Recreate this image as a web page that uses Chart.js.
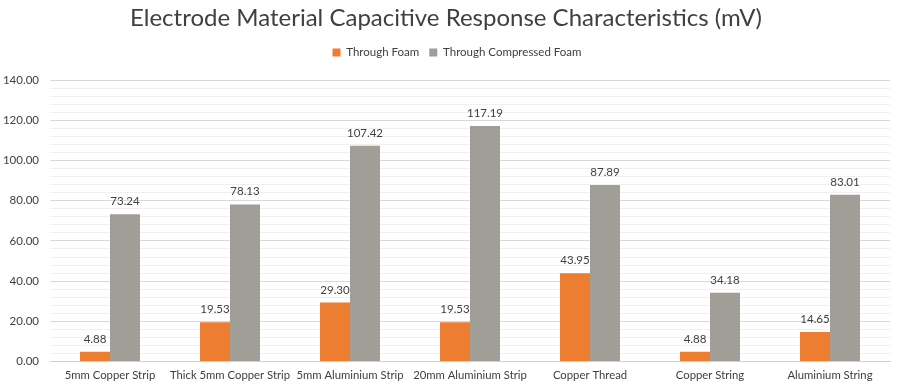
<!DOCTYPE html>
<html>
<head>
<meta charset="utf-8">
<script src="https://cdn.jsdelivr.net/npm/chart.js@4.4.1/dist/chart.umd.min.js"></script>
<style>
  html, body { margin: 0; padding: 0; background: #ffffff; }
  #wrap { width: 897px; height: 389px; position: relative; }
</style>
</head>
<body>
<div id="wrap"><canvas id="c" width="897" height="389"></canvas></div>
<script>
const categories = [
  "5mm Copper Strip",
  "Thick 5mm Copper Strip",
  "5mm Aluminium Strip",
  "20mm Aluminium Strip",
  "Copper Thread",
  "Copper String",
  "Aluminium String"
];
const throughFoam = [4.88, 19.53, 29.30, 19.53, 43.95, 4.88, 14.65];
const throughCompressedFoam = [73.24, 78.13, 107.42, 117.19, 87.89, 34.18, 83.01];

const FONT = "Lato, 'Open Sans', 'Liberation Sans', sans-serif";

// Writes each bar's value above it, two decimals.
const valueLabels = {
  id: 'valueLabels',
  afterDatasetsDraw(chart) {
    const ctx = chart.ctx;
    ctx.save();
    ctx.font = "11.5px " + FONT;
    ctx.fillStyle = '#404040';
    ctx.textAlign = 'center';
    ctx.textBaseline = 'bottom';
    chart.data.datasets.forEach((ds, i) => {
      chart.getDatasetMeta(i).data.forEach((bar, j) => {
        ctx.fillText(ds.data[j].toFixed(2), bar.x, bar.y - 7);
      });
    });
    ctx.restore();
  }
};

// Extra space between the legend and the plot area, and a small shift right.
const legendGap = {
  id: 'legendGap',
  beforeInit(chart) {
    const fit = chart.legend.fit;
    chart.legend.fit = function () {
      fit.bind(chart.legend)();
      this.height += 12;
    };
  },
  afterLayout(chart) {
    chart.legend.left += 22;
  }
};

new Chart(document.getElementById('c'), {
  type: 'bar',
  data: {
    labels: categories,
    datasets: [
      { label: 'Through Foam', data: throughFoam, backgroundColor: '#ED7D31',
        categoryPercentage: 0.5, barPercentage: 1.0 },
      { label: 'Through Compressed Foam', data: throughCompressedFoam, backgroundColor: '#A19D97',
        categoryPercentage: 0.5, barPercentage: 1.0 }
    ]
  },
  options: {
    responsive: false,
    animation: false,
    layout: { padding: { left: 2, right: 7, top: 4, bottom: 0 } },
    plugins: {
      title: {
        display: true,
        text: 'Electrode Material Capacitive Response Characteristics (mV)',
        font: { family: FONT, size: 24, weight: 'normal' },
        color: '#404040',
        padding: { top: 0, bottom: 4 }
      },
      legend: {
        position: 'top',
        labels: {
          font: { family: FONT, size: 11.5 },
          color: '#404040',
          boxWidth: 8,
          boxHeight: 8,
          padding: 10
        }
      },
      tooltip: { enabled: false }
    },
    scales: {
      x: {
        grid: { display: false, drawTicks: false },
        border: { color: '#d0d0d0' },
        ticks: { font: { family: FONT, size: 11.3 }, color: '#404040', padding: 7, maxRotation: 0, autoSkip: false }
      },
      y: {
        min: 0,
        max: 140,
        border: { display: false },
        afterFit: (s) => { s.width = 48; },
        grid: {
          drawTicks: false,
          color: (c) => (c.tick && c.tick.value % 20 === 0) ? '#d9d9d9' : '#f0f0f0',
          lineWidth: 1
        },
        ticks: {
          stepSize: 4,
          maxTicksLimit: 100,
          autoSkip: false,
          padding: 11,
          font: { family: FONT, size: 11.5 },
          color: '#404040',
          callback: (v) => (v % 20 === 0) ? v.toFixed(2) : ''
        }
      }
    }
  },
  plugins: [valueLabels, legendGap]
});
</script>
</body>
</html>
